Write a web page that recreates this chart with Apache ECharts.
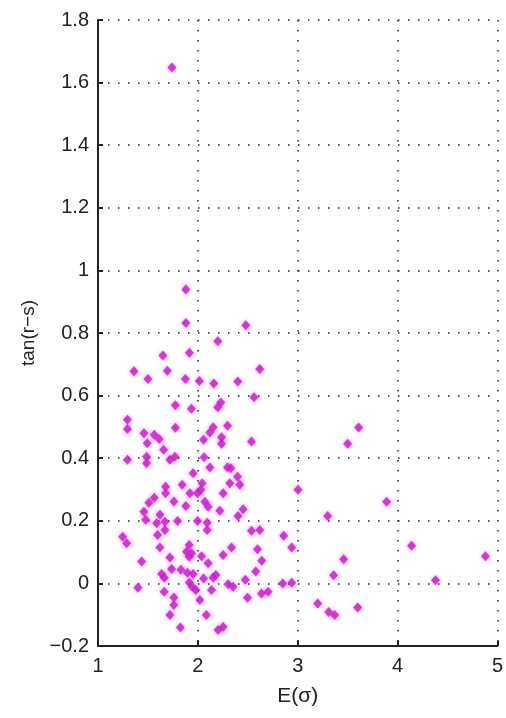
<!DOCTYPE html>
<html>
<head>
<meta charset="utf-8">
<script src="https://cdn.jsdelivr.net/npm/echarts@6/dist/echarts.min.js"></script>
<style>html,body{margin:0;padding:0;background:#fff}#c{width:506px;height:718px}</style>
</head>
<body>
<div id="c"></div>
<script>
// E(sigma) values
var xValues = [
 1.74,1.88,1.88,2.48,2.20,1.65,1.915,1.36,1.695,2.62,
 1.50,1.875,2.015,2.16,2.40,2.563,2.23,2.20,1.775,1.935,
 1.295,1.295,1.775,2.297,2.153,2.12,2.057,2.237,2.237,2.537,
 1.46,1.563,1.613,1.493,1.657,1.295,1.487,1.487,1.72,1.77,
 2.063,2.12,2.297,2.33,1.953,2.397,2.42,2.32,2.043,2.03,
 1.843,1.677,1.677,1.92,1.997,2.253,3.003,1.563,1.51,1.76,
 1.88,2.07,2.103,1.46,1.477,2.22,2.453,2.403,1.62,1.587,
 1.67,1.67,1.597,1.797,1.997,2.093,2.093,2.537,2.62,1.247,
 1.287,2.86,2.94,1.62,1.913,1.887,1.937,1.913,2.037,2.103,
 2.337,2.253,2.597,2.64,1.437,1.72,2.58,1.637,1.665,1.737,
 1.83,1.895,1.953,2.057,2.153,2.18,2.475,1.943,1.98,1.40,
 1.663,2.137,2.303,2.353,2.497,2.637,2.703,2.02,1.76,1.76,
 1.72,2.085,1.825,2.203,2.253,3.61,3.50,3.89,3.30,2.85,
 2.94,4.14,4.88,3.46,3.36,4.38,3.20,3.31,3.37,3.60,
 1.915
];
// tan(r-s) values
var yValues = [
 1.648,0.939,0.832,0.825,0.774,0.728,0.737,0.678,0.679,0.685,
 0.653,0.653,0.647,0.639,0.645,0.595,0.578,0.563,0.569,0.558,
 0.523,0.493,0.497,0.504,0.499,0.482,0.459,0.467,0.446,0.453,
 0.48,0.475,0.461,0.448,0.427,0.395,0.405,0.384,0.395,0.405,
 0.403,0.37,0.371,0.368,0.352,0.341,0.315,0.32,0.32,0.299,
 0.315,0.309,0.288,0.288,0.288,0.288,0.299,0.274,0.258,0.262,
 0.247,0.261,0.245,0.229,0.203,0.232,0.237,0.215,0.219,0.192,
 0.197,0.171,0.155,0.199,0.199,0.194,0.171,0.168,0.171,0.149,
 0.128,0.152,0.115,0.115,0.123,0.101,0.096,0.085,0.087,0.064,
 0.115,0.091,0.109,0.072,0.07,0.083,0.038,0.03,0.018,0.046,
 0.044,0.034,0.03,0.016,0.018,0.027,0.012,-0.011,-0.021,-0.014,
 -0.027,-0.021,-0.003,-0.011,-0.046,-0.032,-0.027,-0.053,-0.045,-0.069,
 -0.101,-0.101,-0.141,-0.149,-0.139,0.498,0.446,0.261,0.215,0.0,
 0.002,0.12,0.087,0.077,0.026,0.01,-0.064,-0.091,-0.101,-0.077,
 0.003
];
var xTicks = [1, 2, 3, 4, 5];
var yTicks = ['-0.2','0','0.2','0.4','0.6','0.8','1','1.2','1.4','1.6','1.8'];

var pts = xValues.map(function (x, i) { return [x, yValues[i]]; });
var font = 'Liberation Sans, Arial, sans-serif';
var gridLine = {color: '#222', width: 1.5, type: [1.5, 8.5]};

var chart = echarts.init(document.getElementById('c'), null, {renderer: 'canvas'});
chart.setOption({
  animation: false,
  backgroundColor: '#fff',
  grid: {left: 98, right: 8, top: 20, bottom: 72},
  xAxis: {
    type: 'value', min: xTicks[0], max: xTicks[xTicks.length - 1], interval: 1,
    name: 'E(σ)', nameLocation: 'middle', nameGap: 40,
    nameTextStyle: {fontFamily: font, fontSize: 21, color: '#222'},
    axisLine: {onZero: false, lineStyle: {color: '#222', width: 2}},
    axisTick: {inside: true, length: 5, lineStyle: {color: '#222', width: 2}},
    axisLabel: {fontFamily: font, fontSize: 20, color: '#222', margin: 10},
    splitLine: {show: true, lineStyle: gridLine}
  },
  yAxis: {
    type: 'value', min: -0.2, max: 1.8, interval: 0.2,
    name: 'tan(r−s)', nameLocation: 'middle', nameGap: 58, nameRotate: 90,
    nameTextStyle: {fontFamily: font, fontSize: 19, color: '#222'},
    axisLine: {show: true, onZero: false, lineStyle: {color: '#222', width: 2}},
    axisTick: {inside: true, length: 5, lineStyle: {color: '#222', width: 2}},
    axisLabel: {fontFamily: font, fontSize: 20, color: '#222', margin: 9,
      formatter: function (v) { var i = Math.round((v + 0.2) / 0.2); return (yTicks[i] || '').replace('-', '−'); }},
    splitLine: {show: true, lineStyle: gridLine}
  },
  series: [{
    type: 'scatter', data: pts, symbol: 'diamond', symbolSize: [9, 10],
    itemStyle: {color: '#c21dc2', shadowColor: 'rgba(255,0,255,0.6)', shadowBlur: 4}
  }]
});
</script>
</body>
</html>
